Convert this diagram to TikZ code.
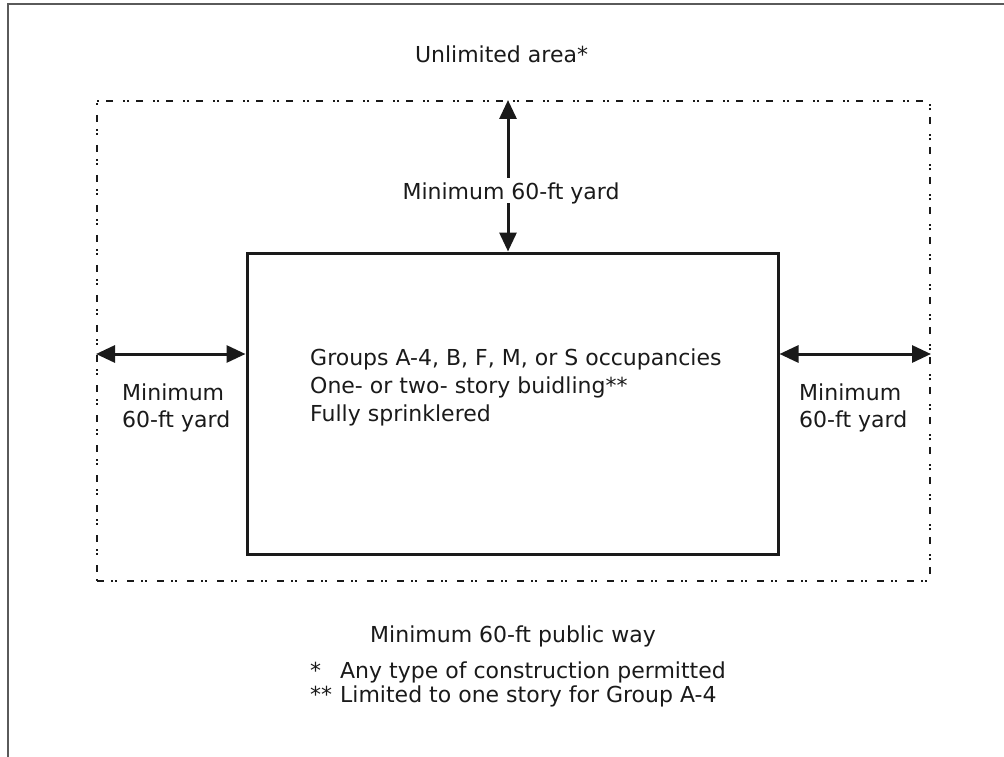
\documentclass[tikz,border=0pt]{standalone}
\usepackage{fontspec}
\setmainfont{DejaVu Sans}
\usetikzlibrary{arrows.meta}
\definecolor{ink}{HTML}{1A1A1A}
\definecolor{framegray}{HTML}{5A5A5A}
\tikzset{
  txt/.style={font=\fontsize{22}{28}\selectfont, text=ink, inner sep=0pt},
  arr/.style={line width=3pt, draw=ink, {Triangle[length=19pt,width=17pt]}-{Triangle[length=19pt,width=17pt]}},
  sarr/.style={line width=3pt, draw=ink, -{Triangle[length=19pt,width=17pt]}},
  areabox/.style={draw=ink, line width=2pt, dash pattern=on 7pt off 7pt on 1.8pt off 2pt on 1.8pt off 10.4pt},
  bldg/.style={draw=ink, line width=3pt},
  framelines/.style={draw=framegray, line width=1.6pt}
}
\begin{document}
\begin{tikzpicture}[x=1pt,y=-1pt]
\useasboundingbox (0,0) rectangle (1004,757);
% frame
\coordinate (fbl) at (8,757);
\coordinate (ftl) at (8,4);
\coordinate (ftr) at (1004,4);
\draw[framelines] (fbl) -- (ftl) -- (ftr);
% areas
\node[areabox, minimum width=833pt, minimum height=480pt, inner sep=0pt] (area) at (513.5,341) {};
\node[bldg, minimum width=531pt, minimum height=301pt, inner sep=0pt] (box) at (512.5,403.5) {};
% labels
\node[txt, anchor=base] (unl) at (501.5,63) {Unlimited area*};
\node[txt, anchor=base, text height=17pt, text depth=0pt, inner ysep=4pt] (vlab) at (511,199) {Minimum 60-ft yard};
\node[txt, anchor=base west, align=left] (occ) at (310,421) {Groups A-4, B, F, M, or S occupancies\\One- or two- story buidling{**}\\Fully sprinklered};
\node[txt, anchor=base west, align=left, font=\fontsize{22}{27}\selectfont] (lyard) at (122,427) {Minimum\\60-ft yard};
\node[txt, anchor=base west, align=left, font=\fontsize{22}{27}\selectfont] (ryard) at (799,427) {Minimum\\60-ft yard};
\node[txt, anchor=base] (pway) at (513,642) {Minimum 60-ft public way};
\node[txt, anchor=base west, font=\fontsize{22}{24}\selectfont] (notes) at (310,678)
  {\begin{tabular}[t]{@{}l@{\hspace{8pt}}l@{}}{*}&Any type of construction permitted\\{**}&Limited to one story for Group A-4\end{tabular}};
% arrows
\coordinate (vx) at (508,0);
\coordinate (hy) at (0,354);
\draw[sarr] (vlab.north -| vx) -- (area.north -| vx);
\draw[sarr] (vlab.south -| vx) -- (box.north -| vx);
\draw[arr] (area.west |- hy) -- (box.west |- hy);
\draw[arr] (box.east |- hy) -- (area.east |- hy);
\end{tikzpicture}
\end{document}
